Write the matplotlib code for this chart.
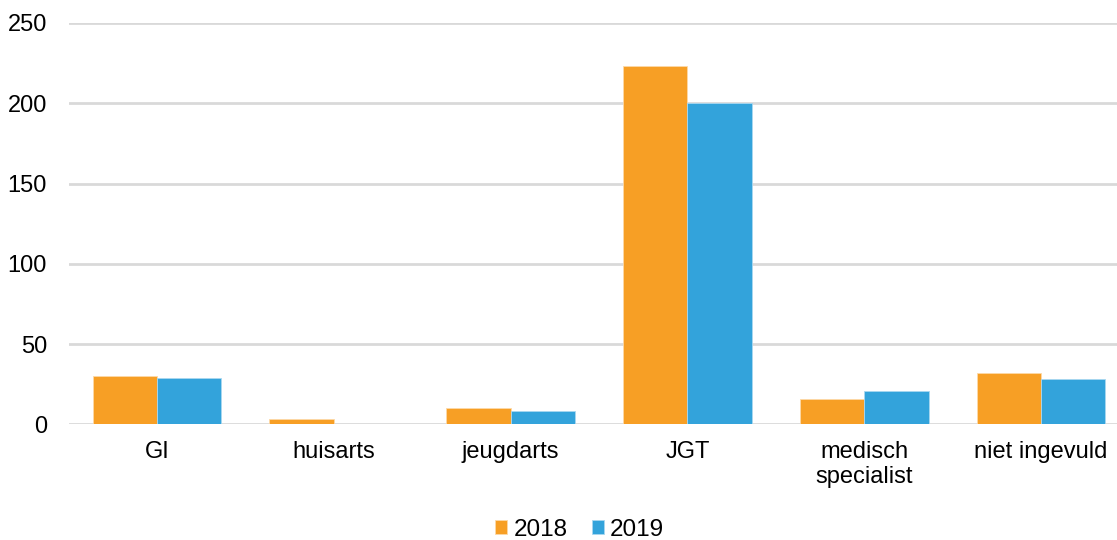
import matplotlib
matplotlib.use("Agg")
import matplotlib.pyplot as plt
import numpy as np

categories = ["GI", "huisarts", "jeugdarts", "JGT", "medisch\nspecialist", "niet ingevuld"]
series_names = ["2018", "2019"]
values_2018 = [30, 3, 10, 223, 16, 32]
values_2019 = [29, 0, 8, 200, 21, 28]
yticks = [0, 50, 100, 150, 200, 250]

colors = ["#F79F25", "#33A3DB"]

plt.rcParams["font.family"] = ["Liberation Sans", "DejaVu Sans"]

W, H = 1117, 540
left_px, right_px, bottom_px, top_px = 68.6, 1129.4, 424.3, 23
fig = plt.figure(figsize=(W/100, H/100), dpi=100)
ax = fig.add_axes([left_px/W, 1 - bottom_px/H, (right_px - left_px)/W, (bottom_px - top_px)/H])

x = np.arange(len(categories))
w = 0.364
ax.bar(x - w/2, values_2018, w, color=colors[0], label=series_names[0], zorder=3,
       edgecolor="#FDD9A8", linewidth=0.6)
ax.bar(x + w/2, values_2019, w, color=colors[1], label=series_names[1], zorder=3,
       edgecolor="#A9D8F0", linewidth=0.6)

ax.set_xlim(-0.5, len(categories) - 0.5)
ax.set_ylim(0, 250)
ax.set_yticks(yticks)
ax.set_yticklabels([str(t) for t in yticks])
ax.set_xticks(x)
ax.set_xticklabels(categories, linespacing=1.15)

ax.grid(axis="y", color="#D9D9D9", linewidth=2, zorder=0)
ax.set_axisbelow(True)
for s in ax.spines.values():
    s.set_visible(False)
ax.tick_params(axis="both", length=0, labelsize=17, colors="black")
ax.tick_params(axis="y", pad=15.5)
ax.tick_params(axis="x", pad=12)

fig.legend(loc="center", bbox_to_anchor=(0.519, 1 - 530/540), ncol=2,
           frameon=False, fontsize=17.5, handlelength=0.5, handleheight=0.5,
           handletextpad=0.25, columnspacing=1.0)

fig.savefig("out.png", dpi=100)
